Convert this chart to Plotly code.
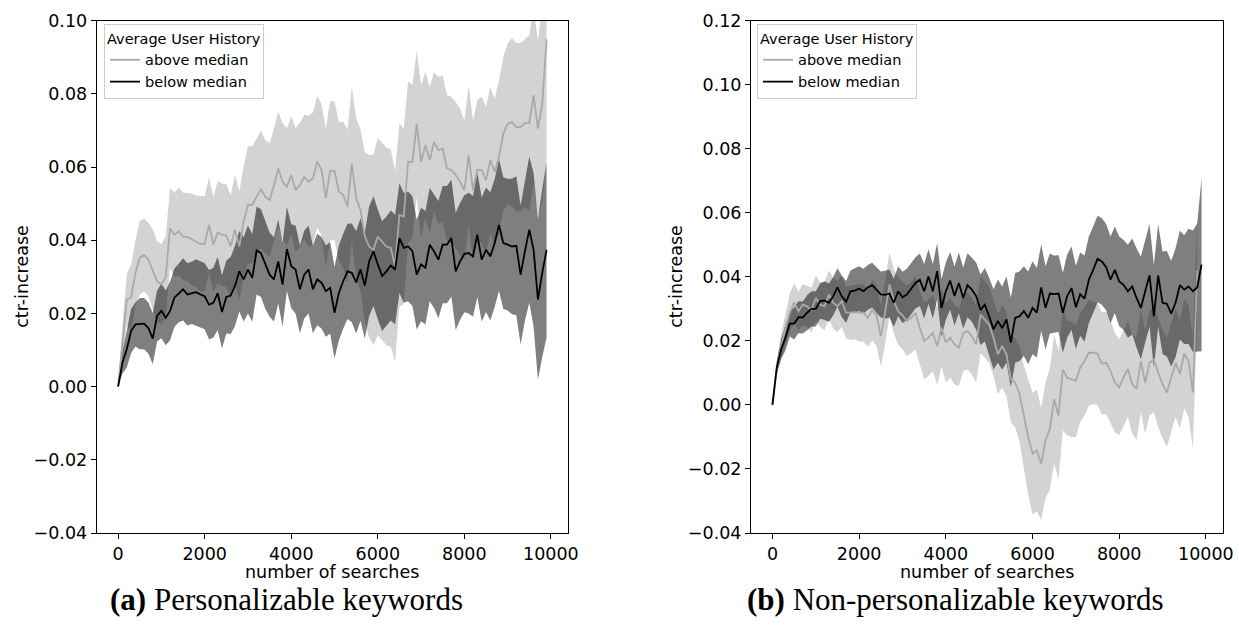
import plotly.graph_objects as go
import numpy as np

# ---------------- data ----------------
searches = list(range(0, 10000, 100))

# (a) Personalizable keywords
a_above_mean = [0.000, 0.012, 0.0238, 0.0243, 0.031, 0.0352, 0.036, 0.0347, 0.032, 0.0288,
                0.0279, 0.030, 0.0433, 0.0415, 0.0424, 0.041, 0.0409, 0.0403, 0.0397, 0.039,
                0.039, 0.0442, 0.0388, 0.0421, 0.0415, 0.0413, 0.0383, 0.0429, 0.0383, 0.0451,
                0.0497, 0.0497, 0.0519, 0.0539, 0.0519, 0.051, 0.055, 0.0596, 0.056, 0.0546,
                0.0578, 0.0537, 0.0551, 0.0573, 0.056, 0.0569, 0.0615, 0.0592, 0.0515, 0.059,
                0.059, 0.0533, 0.0524, 0.0492, 0.061, 0.0515, 0.0483, 0.041, 0.0383, 0.0374,
                0.041, 0.0397, 0.0383, 0.0379, 0.0329, 0.0469, 0.0465, 0.0614, 0.0614, 0.0718,
                0.0614, 0.066, 0.0619, 0.0669, 0.0646, 0.065, 0.0596, 0.0592, 0.0578, 0.056,
                0.0537, 0.0632, 0.0537, 0.0593, 0.0592, 0.0564, 0.0619, 0.0587, 0.0628, 0.0691,
                0.0718, 0.0723, 0.0709, 0.0709, 0.072, 0.072, 0.0796, 0.0705, 0.0773, 0.0949]
a_above_err = [0.000, 0.005, 0.007, 0.009, 0.009, 0.010, 0.010, 0.010, 0.011, 0.011,
               0.011, 0.011, 0.011, 0.0115, 0.012, 0.012, 0.012, 0.0125, 0.0125, 0.013,
               0.013, 0.013, 0.013, 0.014, 0.014, 0.014, 0.014, 0.015, 0.015, 0.015,
               0.016, 0.016, 0.016, 0.016, 0.0155, 0.0155, 0.0155, 0.0155, 0.016, 0.016,
               0.016, 0.017, 0.017, 0.017, 0.018, 0.018, 0.018, 0.018, 0.019, 0.019,
               0.019, 0.019, 0.020, 0.021, 0.021, 0.022, 0.022, 0.023, 0.025, 0.026,
               0.027, 0.027, 0.027, 0.027, 0.026, 0.025, 0.024, 0.022, 0.021, 0.020,
               0.021, 0.020, 0.020, 0.019, 0.020, 0.020, 0.020, 0.020, 0.020, 0.020,
               0.019, 0.019, 0.019, 0.019, 0.020, 0.020, 0.020, 0.020, 0.021, 0.021,
               0.022, 0.023, 0.023, 0.023, 0.023, 0.024, 0.024, 0.024, 0.027, 0.033]
a_below_mean = [0.000, 0.0066, 0.0102, 0.0152, 0.0170, 0.0172, 0.0172, 0.016, 0.0131, 0.0193,
                0.0207, 0.0188, 0.0207, 0.0243, 0.0256, 0.0266, 0.0252, 0.0256, 0.0258, 0.0252,
                0.0247, 0.0224, 0.0229, 0.0255, 0.0204, 0.0245, 0.0249, 0.0275, 0.0315, 0.0293,
                0.032, 0.0297, 0.0372, 0.0365, 0.0333, 0.0306, 0.0293, 0.0342, 0.0279, 0.0376,
                0.0329, 0.032, 0.0266, 0.0306, 0.032, 0.0266, 0.0293, 0.0284, 0.0261, 0.027,
                0.0202, 0.0256, 0.0288, 0.0315, 0.0311, 0.0285, 0.032, 0.0276, 0.0342, 0.037,
                0.0334, 0.0302, 0.0315, 0.0331, 0.032, 0.0406, 0.0379, 0.0383, 0.037, 0.0306,
                0.0334, 0.0325, 0.0388, 0.037, 0.0347, 0.0388, 0.0388, 0.0406, 0.0315, 0.0342,
                0.0363, 0.0365, 0.0356, 0.0415, 0.0347, 0.0374, 0.0356, 0.0392, 0.0442, 0.0392,
                0.0388, 0.0383, 0.0385, 0.0306, 0.037, 0.0429, 0.0374, 0.0238, 0.0311, 0.0374]
a_below_err = [0.000, 0.003, 0.005, 0.006, 0.006, 0.007, 0.007, 0.007, 0.007, 0.007,
               0.0075, 0.0075, 0.008, 0.008, 0.008, 0.0085, 0.0085, 0.0085, 0.009, 0.009,
               0.009, 0.0095, 0.0095, 0.010, 0.010, 0.010, 0.0105, 0.011, 0.011, 0.0115,
               0.012, 0.012, 0.012, 0.012, 0.012, 0.0115, 0.0115, 0.0115, 0.0115, 0.0115,
               0.0115, 0.012, 0.012, 0.012, 0.012, 0.012, 0.0125, 0.0125, 0.0125, 0.0125,
               0.0125, 0.013, 0.013, 0.013, 0.0135, 0.014, 0.014, 0.0145, 0.015, 0.015,
               0.015, 0.015, 0.015, 0.015, 0.015, 0.015, 0.015, 0.015, 0.015, 0.015,
               0.0155, 0.0155, 0.0155, 0.0155, 0.016, 0.016, 0.016, 0.016, 0.016, 0.016,
               0.016, 0.0165, 0.0165, 0.017, 0.017, 0.017, 0.0175, 0.0175, 0.018, 0.018,
               0.018, 0.0185, 0.019, 0.019, 0.019, 0.020, 0.021, 0.022, 0.023, 0.024]

# (b) Non-personalizable keywords
b_above_mean = [0.000, 0.0117, 0.018, 0.024, 0.0288, 0.032, 0.0293, 0.0313, 0.0308, 0.0296,
                0.0334, 0.0313, 0.0308, 0.0345, 0.0319, 0.0308, 0.0324, 0.0288, 0.0288, 0.029,
                0.0288, 0.0288, 0.0272, 0.0296, 0.028, 0.0215, 0.029, 0.0376, 0.0324, 0.0293,
                0.028, 0.0262, 0.0272, 0.0288, 0.024, 0.020, 0.021, 0.0225, 0.0184, 0.0241,
                0.0195, 0.021, 0.0189, 0.0179, 0.0225, 0.0231, 0.0215, 0.0189, 0.0282, 0.0267,
                0.0251, 0.021, 0.0158, 0.0184, 0.0158, 0.008, 0.007, 0.0034, -0.0038, -0.010,
                -0.0152, -0.0142, -0.0184, -0.0111, -0.0075, 0.0018, -0.0033, 0.011, 0.0085, 0.008,
                0.0075, 0.0117, 0.0137, 0.0163, 0.0163, 0.016, 0.0129, 0.0132, 0.0106, 0.007,
                0.0055, 0.0086, 0.0112, 0.0065, 0.005, 0.0137, 0.007, 0.0132, 0.0142, 0.0101,
                0.0065, 0.0039, 0.0086, 0.0132, 0.0096, 0.016, 0.0137, 0.0039, 0.042]
b_above_err = [0.000, 0.002, 0.004, 0.005, 0.006, 0.006, 0.006, 0.0065, 0.0065, 0.007,
               0.007, 0.007, 0.0075, 0.0075, 0.008, 0.008, 0.008, 0.008, 0.0085, 0.0085,
               0.009, 0.009, 0.009, 0.0095, 0.0095, 0.0095, 0.010, 0.010, 0.010, 0.0105,
               0.0105, 0.011, 0.011, 0.0115, 0.0115, 0.012, 0.012, 0.012, 0.012, 0.012,
               0.0125, 0.0125, 0.0125, 0.012, 0.012, 0.012, 0.012, 0.012, 0.012, 0.012,
               0.012, 0.012, 0.0125, 0.013, 0.013, 0.0135, 0.014, 0.015, 0.016, 0.018,
               0.019, 0.019, 0.0175, 0.018, 0.019, 0.020, 0.020, 0.019, 0.018, 0.018,
               0.0175, 0.017, 0.017, 0.0165, 0.016, 0.016, 0.016, 0.016, 0.016, 0.0155,
               0.015, 0.015, 0.015, 0.0155, 0.016, 0.016, 0.016, 0.0165, 0.0165, 0.017,
               0.017, 0.017, 0.017, 0.017, 0.017, 0.017, 0.0175, 0.0175, 0.015]
b_below_mean = [0.000, 0.0117, 0.0174, 0.021, 0.0254, 0.0254, 0.0274, 0.0273, 0.0288, 0.030,
                0.030, 0.0324, 0.0326, 0.0319, 0.0339, 0.0367, 0.0339, 0.0322, 0.0355, 0.0357,
                0.0363, 0.0355, 0.0367, 0.0374, 0.036, 0.0345, 0.0344, 0.0348, 0.0319, 0.0355,
                0.0336, 0.0345, 0.0363, 0.0381, 0.0391, 0.0355, 0.0401, 0.0355, 0.0418, 0.0303,
                0.0355, 0.0388, 0.034, 0.0381, 0.0334, 0.0374, 0.036, 0.034, 0.0297, 0.0313,
                0.0277, 0.0236, 0.0262, 0.024, 0.0267, 0.0195, 0.0272, 0.0277, 0.0293, 0.0272,
                0.0303, 0.0288, 0.0367, 0.0303, 0.0348, 0.0346, 0.0348, 0.0288, 0.034, 0.0365,
                0.0305, 0.0346, 0.0332, 0.0391, 0.0422, 0.0456, 0.0448, 0.043, 0.0391, 0.0422,
                0.0386, 0.0375, 0.0355, 0.037, 0.0334, 0.0303, 0.0355, 0.0405, 0.0277, 0.0404,
                0.0319, 0.0316, 0.0285, 0.0319, 0.0374, 0.036, 0.037, 0.0355, 0.0367, 0.0438]
b_below_err = [0.000, 0.002, 0.003, 0.004, 0.004, 0.005, 0.005, 0.005, 0.0055, 0.0055,
               0.0055, 0.0055, 0.006, 0.006, 0.006, 0.006, 0.0065, 0.0065, 0.0065, 0.007,
               0.007, 0.007, 0.007, 0.007, 0.0072, 0.0072, 0.0075, 0.0075, 0.0075, 0.0078,
               0.008, 0.008, 0.008, 0.008, 0.0082, 0.0085, 0.0085, 0.0085, 0.0088, 0.009,
               0.009, 0.009, 0.0092, 0.0095, 0.0095, 0.010, 0.010, 0.0105, 0.011, 0.0115,
               0.012, 0.0125, 0.013, 0.013, 0.0135, 0.014, 0.014, 0.014, 0.014, 0.0145,
               0.0145, 0.014, 0.0135, 0.013, 0.0125, 0.012, 0.012, 0.0125, 0.013, 0.013,
               0.013, 0.013, 0.0135, 0.0135, 0.0135, 0.0135, 0.0135, 0.0135, 0.0135, 0.0135,
               0.014, 0.014, 0.0145, 0.015, 0.0155, 0.016, 0.016, 0.016, 0.016, 0.016,
               0.016, 0.0165, 0.0165, 0.017, 0.017, 0.017, 0.018, 0.019, 0.020, 0.027]

x_tickvals = [0, 2000, 4000, 6000, 8000, 10000]
x_ticktext = ["0", "2000", "4000", "6000", "8000", "10000"]
ya_tickvals = [-0.04, -0.02, 0.00, 0.02, 0.04, 0.06, 0.08, 0.10]
ya_ticktext = ["\u22120.04", "\u22120.02", "0.00", "0.02", "0.04", "0.06", "0.08", "0.10"]
yb_tickvals = [-0.04, -0.02, 0.00, 0.02, 0.04, 0.06, 0.08, 0.10, 0.12]
yb_ticktext = ["\u22120.04", "\u22120.02", "0.00", "0.02", "0.04", "0.06", "0.08", "0.10", "0.12"]

series_names = ["above median", "below median"]
legend_title = "Average User History"
captions = ["<b>(a)</b> Personalizable keywords", "<b>(b)</b> Non-personalizable keywords"]

# ---------------- styles ----------------
LIGHT_BAND = "#d3d3d3"
DARK_BAND = "rgba(0,0,0,0.5)"
GRAY_LINE = "#a9a9a9"
BLACK_LINE = "#000000"
SANS = "DejaVu Sans"
SERIF = "Liberation Serif"
TICK_SIZE = 17.5
LEG_SIZE = 14.5

fig = go.Figure()


def add_band(mean, err, color, xa, ya):
    m = np.asarray(mean)
    e = np.asarray(err)
    x = np.asarray(searches[:len(m)])
    upper = m + e
    lower = m - e
    fig.add_trace(go.Scatter(
        x=np.concatenate([x, x[::-1]]),
        y=np.concatenate([upper, lower[::-1]]),
        fill="toself", fillcolor=color, mode="lines",
        line=dict(width=0, color=color), hoverinfo="skip",
        showlegend=False, xaxis=xa, yaxis=ya))


def add_line(mean, color, name, xa, ya, legend):
    fig.add_trace(go.Scatter(
        x=searches[:len(mean)], y=mean, mode="lines",
        line=dict(color=color, width=1.8), name=name,
        xaxis=xa, yaxis=ya, legend=legend))


# left panel
add_band(a_above_mean, a_above_err, LIGHT_BAND, "x", "y")
add_band(a_below_mean, a_below_err, DARK_BAND, "x", "y")
add_line(a_above_mean, GRAY_LINE, series_names[0], "x", "y", "legend")
add_line(a_below_mean, BLACK_LINE, series_names[1], "x", "y", "legend")
# right panel
add_band(b_above_mean, b_above_err, LIGHT_BAND, "x2", "y2")
add_band(b_below_mean, b_below_err, DARK_BAND, "x2", "y2")
add_line(b_above_mean, GRAY_LINE, series_names[0], "x2", "y2", "legend2")
add_line(b_below_mean, BLACK_LINE, series_names[1], "x2", "y2", "legend2")

W, H = 1239, 641
Y_DOM = [1 - 533 / H, 1 - 20.7 / H]
XA_DOM = [96.7 / W, 568 / W]
XB_DOM = [751 / W, 1223 / W]

axis_common = dict(showline=True, linecolor="black", linewidth=1, mirror=True,
                   ticks="outside", ticklen=5, tickwidth=1, tickcolor="black",
                   showgrid=False, zeroline=False, automargin=False,
                   tickfont=dict(family=SANS, size=TICK_SIZE, color="black"))

fig.update_layout(
    width=W, height=H,
    margin=dict(l=0, r=0, t=0, b=0),
    paper_bgcolor="white", plot_bgcolor="white",
    xaxis=dict(domain=XA_DOM, anchor="y", range=[-495, 10395],
               tickvals=x_tickvals, ticktext=x_ticktext, **axis_common),
    yaxis=dict(domain=Y_DOM, anchor="x", range=[-0.04, 0.10],
               tickvals=ya_tickvals, ticktext=ya_ticktext, **axis_common),
    xaxis2=dict(domain=XB_DOM, anchor="y2", range=[-495, 10395],
                tickvals=x_tickvals, ticktext=x_ticktext, **axis_common),
    yaxis2=dict(domain=Y_DOM, anchor="x2", range=[-0.04, 0.12],
                tickvals=yb_tickvals, ticktext=yb_ticktext, **axis_common),
)

legend_common = dict(
    title=dict(text=legend_title, font=dict(family=SANS, size=LEG_SIZE, color="black")),
    font=dict(family=SANS, size=LEG_SIZE, color="black"),
    bgcolor="rgba(255,255,255,0.8)", bordercolor="#cccccc", borderwidth=1,
    xanchor="left", yanchor="top", tracegroupgap=0, itemwidth=30,
    traceorder="normal")
fig.update_layout(
    legend=dict(x=104 / W, y=1 - 24 / H, **legend_common),
    legend2=dict(x=757 / W, y=1 - 24 / H, **legend_common),
)

# axis titles
ann = []
for cx in [(XA_DOM[0] + XA_DOM[1]) / 2, (XB_DOM[0] + XB_DOM[1]) / 2]:
    ann.append(dict(text="number of searches", x=cx, y=1 - 572 / H, xref="paper", yref="paper",
                    xanchor="center", yanchor="middle", showarrow=False,
                    font=dict(family=SANS, size=TICK_SIZE, color="black")))
for px in [22, 676]:
    ann.append(dict(text="ctr-increase", x=px / W, y=(Y_DOM[0] + Y_DOM[1]) / 2,
                    xref="paper", yref="paper", xanchor="center", yanchor="middle",
                    textangle=-90, showarrow=False,
                    font=dict(family=SANS, size=TICK_SIZE, color="black")))
for cap, cx in zip(captions, [286 / W, 956 / W]):
    ann.append(dict(text=cap, x=cx, y=1 - 599 / H, xref="paper", yref="paper",
                    xanchor="center", yanchor="middle", showarrow=False,
                    font=dict(family=SERIF, size=31, color="black")))
fig.update_layout(annotations=ann)

fig.write_html("out.html")
